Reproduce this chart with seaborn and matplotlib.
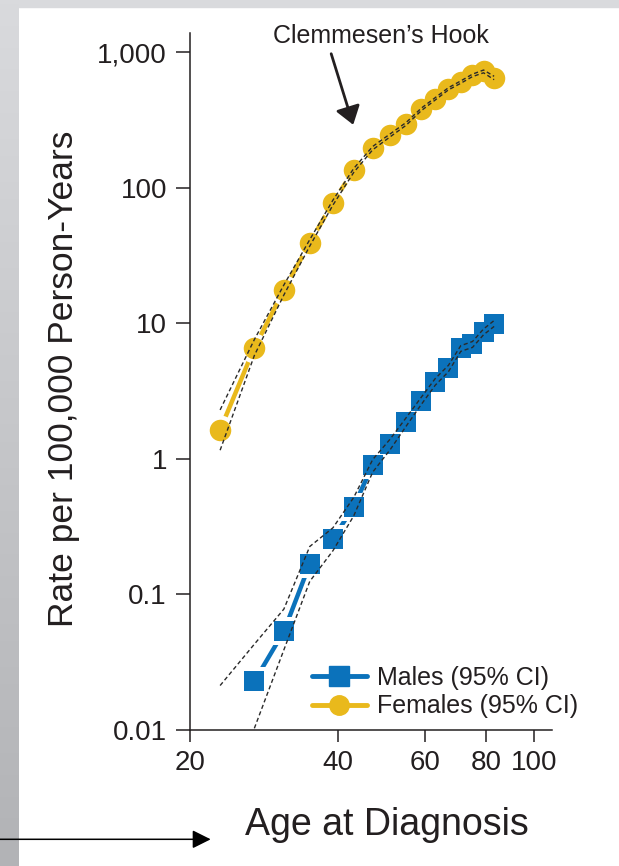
import numpy as np
import pandas as pd
import matplotlib
matplotlib.use("Agg")
import matplotlib.pyplot as plt
import matplotlib.ticker as mticker
from matplotlib.lines import Line2D
import seaborn as sns

# age groups (midpoints)
ages = [23, 27, 31, 35, 39, 43, 47, 51, 55, 59, 63, 67, 71, 75, 79, 83]

female_rate = [1.64, 6.61, 17.6, 39.3, 77.8, 135, 197, 244, 297, 379, 454, 538, 603, 676, 723, 646]
female_hi = [2.30, 7.6, 19.2, 41.5, 81, 139, 202, 250, 304, 387, 463, 548, 615, 690, 740, 665]
female_lo = [1.16, 5.8, 16.2, 37.2, 74.5, 130, 191, 238, 290, 371, 445, 528, 591, 662, 706, 628]

male_rate = [np.nan, 0.0229, 0.0534, 0.168, 0.257, 0.445, 0.903, 1.28, 1.88, 2.68, 3.71, 4.65, 6.53, 6.99, 8.67, 9.98]
male_hi = [0.0213, 0.043, 0.078, 0.226, 0.31, 0.52, 0.99, 1.40, 2.02, 2.85, 3.92, 4.90, 6.85, 7.35, 9.10, 10.5]
male_lo = [np.nan, 0.0103, 0.039, 0.125, 0.21, 0.38, 0.80, 1.17, 1.75, 2.52, 3.50, 4.40, 6.22, 6.65, 8.25, 9.5]

x_ticks = [20, 40, 60, 80, 100]
y_ticks = [0.01, 0.1, 1, 10, 100, 1000]
y_tick_labels = ["0.01", "0.1", "1", "10", "100", "1,000"]

male_color = "#0B72BB"
female_color = "#E9B91C"
ink = "#231F20"

rates = pd.DataFrame({
    "age": ages * 2,
    "rate": male_rate + female_rate,
    "sex": ["Males"] * len(ages) + ["Females"] * len(ages),
}).dropna()

ci = pd.DataFrame({
    "age": ages * 4,
    "value": male_hi + male_lo + female_hi + female_lo,
    "curve": (["m_hi"] * len(ages) + ["m_lo"] * len(ages)
              + ["f_hi"] * len(ages) + ["f_lo"] * len(ages)),
}).dropna()

sns.set_theme(style="ticks")
plt.rcParams["font.family"] = ["Liberation Sans", "DejaVu Sans"]
plt.rcParams["text.color"] = ink

fig = plt.figure(figsize=(6.19, 8.66), dpi=100)
ax = fig.add_axes([0.3074, 0.1570, 0.5839, 0.8045])
ax.set(xscale="log", yscale="log")

palette = {"Males": male_color, "Females": female_color}
sns.lineplot(data=rates, x="age", y="rate", hue="sex", palette=palette,
             estimator=None, lw=3.2, legend=False, ax=ax, zorder=2)

# white halos so the lines stop short of the markers
males = rates[rates["sex"] == "Males"]
females = rates[rates["sex"] == "Females"]
sns.scatterplot(data=males, x="age", y="rate", marker="s", s=400, color="white",
                linewidth=0, legend=False, ax=ax, zorder=3)
sns.scatterplot(data=females, x="age", y="rate", marker="o", s=460, color="white",
                linewidth=0, legend=False, ax=ax, zorder=3)
sns.scatterplot(data=males, x="age", y="rate", marker="s", s=210, color=male_color,
                linewidth=0, legend=False, ax=ax, zorder=4)
sns.scatterplot(data=females, x="age", y="rate", marker="o", s=240, color=female_color,
                linewidth=0, legend=False, ax=ax, zorder=4)

sns.lineplot(data=ci, x="age", y="value", units="curve", estimator=None,
             color="#2a2a2a", lw=1.0, linestyle=(0, (3, 2)), legend=False, ax=ax, zorder=5)

ax.set_xlim(20, 108.7)
ax.set_ylim(0.01, 1380)
ax.set_xticks(x_ticks, labels=[str(t) for t in x_ticks])
ax.set_yticks(y_ticks, labels=y_tick_labels)
ax.xaxis.set_minor_locator(mticker.NullLocator())
ax.yaxis.set_minor_locator(mticker.NullLocator())
ax.tick_params(axis="both", labelsize=20, colors=ink, width=1.1)
ax.tick_params(axis="x", length=8.4, pad=6)
ax.tick_params(axis="y", length=9.8, pad=7)
sns.despine(ax=ax)
for side in ["left", "bottom"]:
    ax.spines[side].set_color(ink)
    ax.spines[side].set_linewidth(1.1)

ax.set_xlabel("Age at Diagnosis", fontsize=27, color=ink)
ax.set_ylabel("Rate per 100,000 Person-Years", fontsize=25.5, color=ink)
ax.xaxis.set_label_coords(0.544, -0.110)
ax.yaxis.set_label_coords(-0.305, 0.5036)

ax.annotate("Clemmesen\u2019s Hook", xy=(42.9, 292), xytext=(48.8, 1175),
            ha="center", va="baseline", fontsize=18, color=ink,
            arrowprops=dict(arrowstyle="-|>,head_length=0.4,head_width=0.28",
                            mutation_scale=27, color=ink, lw=2,
                            relpos=(0.262, 0), shrinkA=2, shrinkB=0),
            annotation_clip=False)

handles = [
    Line2D([], [], color=male_color, lw=3.5, marker="s", ms=14, solid_capstyle="round"),
    Line2D([], [], color=female_color, lw=3.5, marker="o", ms=14, solid_capstyle="round"),
]
ax.legend(handles, ["Males (95% CI)", "Females (95% CI)"], loc="upper left",
          bbox_to_anchor=(0.336, 0.092), frameon=False, fontsize=18,
          handlelength=2.2, handletextpad=0.4, labelspacing=0.18,
          borderpad=0, borderaxespad=0)

# slide decoration: grey frame strips and arrow at bottom left
band = fig.add_axes([0, 0, 19 / 619, 1])
band.imshow(np.linspace(0, 1, 200).reshape(-1, 1), aspect="auto",
            cmap=matplotlib.colors.LinearSegmentedColormap.from_list("g", ["#D9DADD", "#B2B3B6"]),
            extent=[0, 1, 1, 0])
band.axis("off")
band.set_zorder(-1)
fig.patches.append(plt.Rectangle((0, 1 - 7 / 866), 1, 7 / 866, transform=fig.transFigure,
                                 color="#D9DADD", zorder=-2))

ax.annotate("", xy=(210.7, 866 - 839.3), xytext=(0, 866 - 839.3),
            xycoords="figure pixels", textcoords="figure pixels",
            arrowprops=dict(arrowstyle="-|>,head_length=0.4,head_width=0.2",
                            mutation_scale=28, color="black", lw=1.1,
                            shrinkA=0, shrinkB=0),
            annotation_clip=False)

fig.savefig("out.png", dpi=100)
